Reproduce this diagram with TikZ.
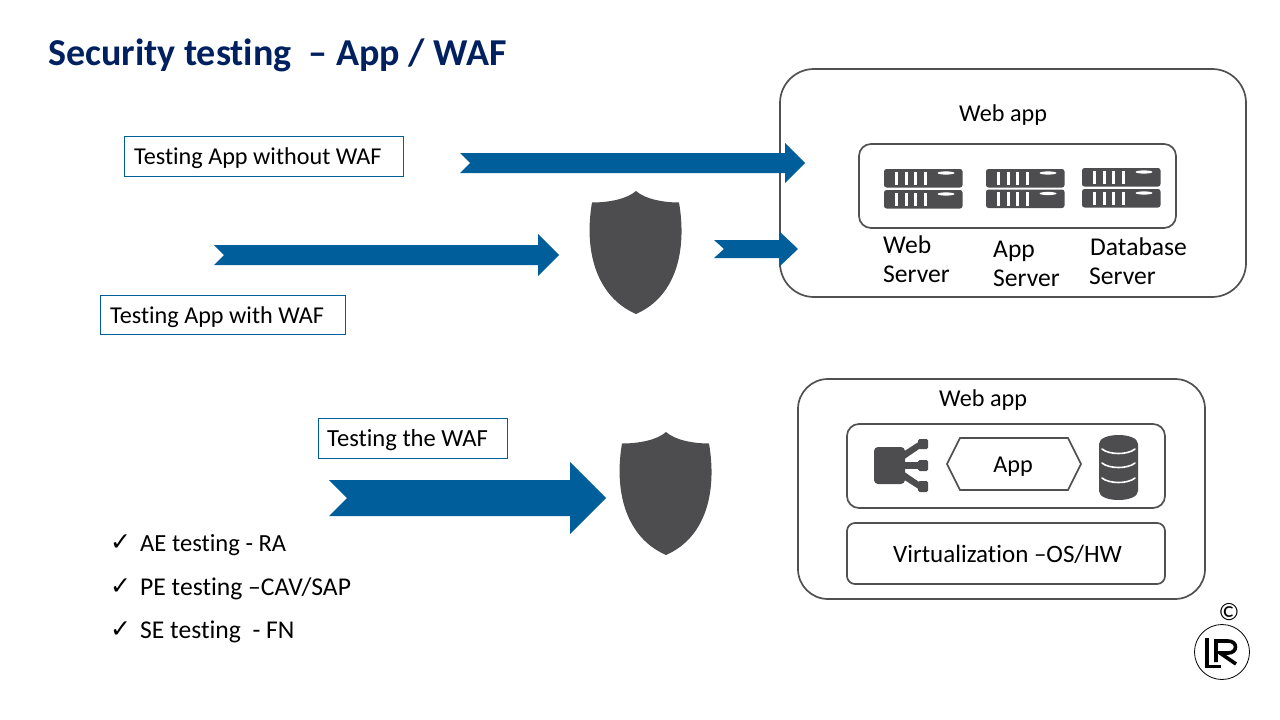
\documentclass[tikz,border=0pt]{standalone}
\usepackage{fontspec}
\setmainfont[Ligatures=NoCommon]{Carlito}
\newfontfamily\symfont{DejaVu Sans}
\definecolor{lrblue}{HTML}{005E9B}
\definecolor{navy}{HTML}{002060}
\definecolor{icon}{HTML}{4D4D4F}
\definecolor{edge}{HTML}{505050}
\tikzset{
  lbl/.style={inner sep=0pt,anchor=base west,font=\fontsize{24.2}{24}\selectfont,text=black},
  lblw/.style={inner sep=0pt,anchor=base west,font=\fontsize{25.6}{25}\selectfont,text=black},
  lbln/.style={inner sep=0pt,anchor=base west,font=\fontsize{24.6}{25}\selectfont,text=black},
  tagbox/.style={draw=lrblue,line width=0.9pt,fill=white},
  panel/.style={draw=edge,line width=1.7pt,fill=white},
  chk/.style={inner sep=0pt,anchor=base west,font=\fontsize{25}{26}\selectfont\symfont},
}
\newcommand{\shieldat}[2]{%
  \begin{scope}[shift={(#1,#2)}]
  \fill[icon] (47,0) .. controls (38,8) and (20,11.5) .. (3,11.5)
    .. controls (-5,58) and (6,105) .. (47,123)
    .. controls (88,105) and (98,58) .. (90,11.5)
    .. controls (74,11.5) and (56,8) .. (47,0) -- cycle;
  \end{scope}}
\newcommand{\srv}[2]{%
  \begin{scope}[shift={(#1,#2)}]
  \fill[icon,rounded corners=2.5pt] (0,0) rectangle (78.5,18.5);
  \foreach \x in {11,20.5,30,39.5}{\fill[white] (\x,2.5) rectangle (\x+3,16);}
  \fill[white] (62,4) ellipse (8.5 and 1.6);
  \end{scope}}
% tail x, notch x, head start, tip, centre y, body half, head half
\newcommand{\barrow}[7]{%
  \fill[lrblue] (#1,#5-#6) -- (#3,#5-#6) -- (#3,#5-#7) -- (#4,#5) -- (#3,#5+#7) -- (#3,#5+#6) -- (#1,#5+#6) -- (#2,#5) -- cycle;}
\begin{document}
\begin{tikzpicture}[x=1pt,y=-1pt]
\useasboundingbox (0,0) rectangle (1280,720);
\node[inner sep=0pt,anchor=base west,font=\fontsize{38}{38}\selectfont\bfseries,text=navy] (title) at (48,65) {Security testing\ \ – App / WAF};
% top right panel
\draw[panel,rounded corners=34pt] (780,69) rectangle (1246,297);
\draw[panel,rounded corners=12pt] (859,144) rectangle (1176,228);
\node[lbl] (webapp1) at (959,121) {Web app};
\srv{884}{169}\srv{884}{190}
\srv{986}{169}\srv{986}{189.5}
\srv{1082}{168}\srv{1082}{189}
\node[lblw] (web1) at (883,253) {Web};
\node[lblw] (web2) at (883,282) {Server};
\node[lblw] (app1) at (993,257) {App};
\node[lblw] (app2) at (993,286) {Server};
\node[lblw] (db1) at (1090,255) {Database};
\node[lblw] (db2) at (1089,284) {Server};
% tags
\draw[tagbox] (124,136) rectangle (403,176);
\node[lbl] (t1) at (134,164) {Testing App without WAF};
\draw[tagbox] (100,295) rectangle (345,334);
\node[lbl] (t2) at (110,323) {Testing App with WAF};
\draw[tagbox] (318,418) rectangle (507,458);
\node[lbln] (t3) at (327,446) {Testing the WAF};
% arrows
\barrow{460}{470}{785}{805}{163}{10}{20}
\barrow{214}{224}{538}{559}{255}{10}{21}
\barrow{714}{724}{779}{798}{249}{9}{18}
\barrow{329}{347}{570}{606}{498}{18}{36}
% shields
\shieldat{589}{191}
\shieldat{619}{432}
% lower panel
\draw[panel,rounded corners=30pt] (798,379) rectangle (1205,599);
\draw[panel,rounded corners=12pt] (847,424) rectangle (1165,508);
\draw[panel,rounded corners=8pt] (847,523) rectangle (1165,584);
\node[lbl] (webapp2) at (939,406) {Web app};
\node[lbl,font=\fontsize{25}{25}\selectfont] (virt) at (893,562) {Virtualization –OS/HW};
% hexagon
\draw[edge,line width=1.7pt,fill=white] (947,464) -- (960,438) -- (1068,438) -- (1081,464) -- (1068,490) -- (960,490) -- cycle;
\node[lbl,anchor=base] (app) at (1013,472) {App};
% network icon
\fill[icon,rounded corners=4pt] (874,447) rectangle (905,484);
\fill[icon] (903,452) -- (920,441) -- (922,447) -- (903,460) -- cycle;
\fill[icon] (903,462) rectangle (922,469);
\fill[icon] (903,471) -- (922,484) -- (920,490) -- (903,479) -- cycle;
\fill[icon,rounded corners=1.5pt] (918,439) rectangle (928,449);
\fill[icon,rounded corners=1.5pt] (918,460) rectangle (928,471);
\fill[icon,rounded corners=1.5pt] (918,481) rectangle (928,492);
% database icon
\fill[icon] (1099,444) .. controls (1099,432) and (1138,432) .. (1138,444) -- (1138,491) .. controls (1138,503) and (1099,503) .. (1099,491) -- cycle;
\draw[white,line width=1.6pt,line cap=round]
  (1102,449) .. controls (1109,455) and (1128,455) .. (1135,449)
  (1102,463) .. controls (1109,469) and (1128,469) .. (1135,463)
  (1102,478) .. controls (1109,484) and (1128,484) .. (1135,478);
% checklist
\node[chk] (c1) at (110,550) {✓};
\node[lbln] (l1) at (140,551) {AE testing - RA};
\node[chk] (c2) at (110,594) {✓};
\node[lblw] (l2) at (140,595) {PE testing –CAV/SAP};
\node[chk] (c3) at (110,637) {✓};
\node[lblw] (l3) at (140,638) {SE testing\ \ - FN};
% logo
\node[inner sep=0pt,font=\fontsize{25}{25}\selectfont] (copy) at (1229,612) {©};
\draw[black,line width=0.8pt,fill=white] (1222,652) circle[radius=27.5];
\draw[black,line width=3.6pt] (1207,638) -- (1207,666.5) -- (1221,666.5);
\draw[black,line width=3.6pt] (1216,641) -- (1216,662) (1214,641) -- (1228,641) .. controls (1238,641) and (1238,653) .. (1228,653) -- (1220,653) -- (1236,664);
\end{tikzpicture}
\end{document}
